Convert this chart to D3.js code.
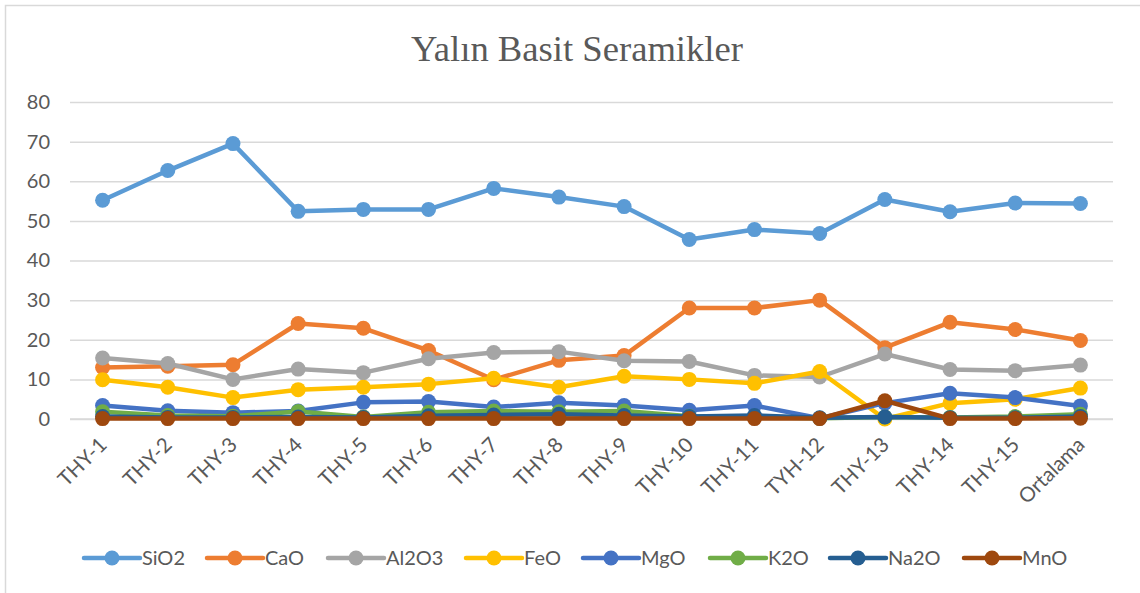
<!DOCTYPE html>
<html>
<head>
<meta charset="utf-8">
<script src="https://cdn.jsdelivr.net/npm/d3@7"></script>
<style>
  html, body { margin: 0; padding: 0; background: #fff; }
  svg { display: block; }
</style>
</head>
<body>
<svg id="chart" width="1140" height="593"></svg>
<script>
// Sample labels along the x axis
const categories = ["THY-1", "THY-2", "THY-3", "THY-4", "THY-5", "THY-6", "THY-7", "THY-8",
  "THY-9", "THY-10", "THY-11", "TYH-12", "THY-13", "THY-14", "THY-15", "Ortalama"];

// Oxide contents (%) for each sample
const sio2  = [55.2, 62.7, 69.5, 52.4, 52.9, 52.9, 58.2, 56.0, 53.6, 45.3, 47.8, 46.8, 55.4, 52.3, 54.5, 54.4];
const cao   = [13.0, 13.3, 13.7, 24.1, 22.9, 17.3, 9.9, 14.8, 16.0, 28.0, 28.0, 30.0, 18.0, 24.4, 22.6, 19.8];
const al2o3 = [15.4, 14.0, 10.0, 12.6, 11.7, 15.2, 16.8, 17.0, 14.7, 14.5, 11.0, 10.6, 16.4, 12.5, 12.2, 13.6];
const feo   = [9.9, 8.0, 5.4, 7.4, 8.0, 8.8, 10.3, 8.0, 10.8, 10.0, 9.0, 12.0, 0.0, 4.0, 5.0, 7.8];
const mgo   = [3.4, 2.1, 1.6, 2.0, 4.2, 4.4, 3.0, 4.1, 3.4, 2.2, 3.4, 0.2, 4.0, 6.5, 5.4, 3.3];
const k2o   = [1.8, 0.9, 0.7, 1.9, 0.5, 1.7, 2.0, 1.8, 2.0, 0.7, 0.5, 0.2, 0.5, 0.4, 0.6, 1.2];
const na2o  = [0.6, 0.4, 0.4, 0.5, 0.4, 0.8, 1.0, 1.2, 0.9, 0.6, 0.9, 0.3, 0.5, 0.3, 0.3, 0.6];
const mno   = [0.1, 0.1, 0.1, 0.1, 0.1, 0.1, 0.1, 0.1, 0.1, 0.1, 0.1, 0.1, 4.6, 0.1, 0.1, 0.2];

const seriesNames  = ["SiO2", "CaO", "Al2O3", "FeO", "MgO", "K2O", "Na2O", "MnO"];
const seriesValues = [sio2, cao, al2o3, feo, mgo, k2o, na2o, mno];
const seriesColors = ["#5B9BD5", "#ED7D31", "#A5A5A5", "#FFC000", "#4472C4", "#70AD47", "#255E91", "#9E480E"];

const yTicks = [0, 10, 20, 30, 40, 50, 60, 70, 80];
const title = "Yalın Basit Seramikler";

const svg = d3.select("#chart");
const W = 1140, H = 593;
const plot = { left: 70, right: 1113, top: 102, bottom: 419 };

const labelFont = "Lato, 'Open Sans', sans-serif";
const textColor = "#595959";

// Outer chart frame
svg.append("rect")
  .attr("x", 5.5).attr("y", 5.5)
  .attr("width", W + 10).attr("height", H + 10)
  .attr("fill", "#fff")
  .attr("stroke", "#d9d9d9")
  .attr("stroke-width", 1.5);

// Title
svg.append("text")
  .attr("x", 577).attr("y", 61)
  .attr("text-anchor", "middle")
  .attr("font-family", "'Liberation Serif', 'Times New Roman', serif")
  .attr("font-size", 36)
  .attr("fill", textColor)
  .attr("textLength", 332)
  .attr("lengthAdjust", "spacingAndGlyphs")
  .text(title);

const x = d3.scalePoint()
  .domain(categories)
  .range([plot.left, plot.right])
  .padding(0.5);

const y = d3.scaleLinear()
  .domain([0, 80])
  .range([plot.bottom, plot.top]);

// Horizontal gridlines and y-axis labels
const yAxis = d3.axisLeft(y)
  .tickValues(yTicks)
  .tickSize(-(plot.right - plot.left))
  .tickPadding(20);

const yg = svg.append("g")
  .attr("transform", `translate(${plot.left},0)`)
  .call(yAxis);
yg.select(".domain").remove();
yg.selectAll(".tick line").attr("stroke", "#d9d9d9").attr("stroke-width", 1.5);
yg.selectAll(".tick text")
  .attr("font-family", labelFont)
  .attr("font-size", 20)
  .attr("fill", textColor);

// Category axis with slanted labels
const xAxis = d3.axisBottom(x).tickSize(0).tickPadding(0);
const xg = svg.append("g")
  .attr("transform", `translate(0,${plot.bottom})`)
  .call(xAxis);
xg.select(".domain").attr("stroke", "#d9d9d9").attr("stroke-width", 1.5)
  .attr("d", `M${plot.left},0H${plot.right}`);
xg.selectAll(".tick text")
  .attr("font-family", labelFont)
  .attr("font-size", 20.5)
  .attr("fill", textColor)
  .attr("text-anchor", "end")
  .attr("dy", null)
  .attr("y", null)
  .attr("transform", "translate(5,27) rotate(-45)");

// Lines and markers, one series at a time
const line = d3.line()
  .x((d, i) => x(categories[i]))
  .y(d => y(d));

seriesNames.forEach((name, s) => {
  const g = svg.append("g").attr("class", "series");
  g.append("path")
    .datum(seriesValues[s])
    .attr("d", line)
    .attr("fill", "none")
    .attr("stroke", seriesColors[s])
    .attr("stroke-width", 4.5)
    .attr("stroke-linejoin", "round")
    .attr("stroke-linecap", "round");
  g.selectAll("circle")
    .data(seriesValues[s])
    .join("circle")
    .attr("cx", (d, i) => x(categories[i]))
    .attr("cy", d => y(d))
    .attr("r", 7.5)
    .attr("fill", seriesColors[s]);
});

// Legend
const legendX = [84, 207, 328, 466, 583, 710, 830, 964];
const legendY = 558;
const legend = svg.append("g");
seriesNames.forEach((name, s) => {
  const g = legend.append("g").attr("transform", `translate(${legendX[s]},${legendY})`);
  g.append("line")
    .attr("x1", 0).attr("x2", 56)
    .attr("y1", 0).attr("y2", 0)
    .attr("stroke", seriesColors[s])
    .attr("stroke-width", 4.5)
    .attr("stroke-linecap", "round");
  g.append("circle")
    .attr("cx", 28).attr("cy", 0).attr("r", 7.5)
    .attr("fill", seriesColors[s]);
  g.append("text")
    .attr("x", 58).attr("y", 0).attr("dy", "0.35em")
    .attr("font-family", labelFont)
    .attr("font-size", 20)
    .attr("fill", textColor)
    .text(name);
});
</script>
</body>
</html>
